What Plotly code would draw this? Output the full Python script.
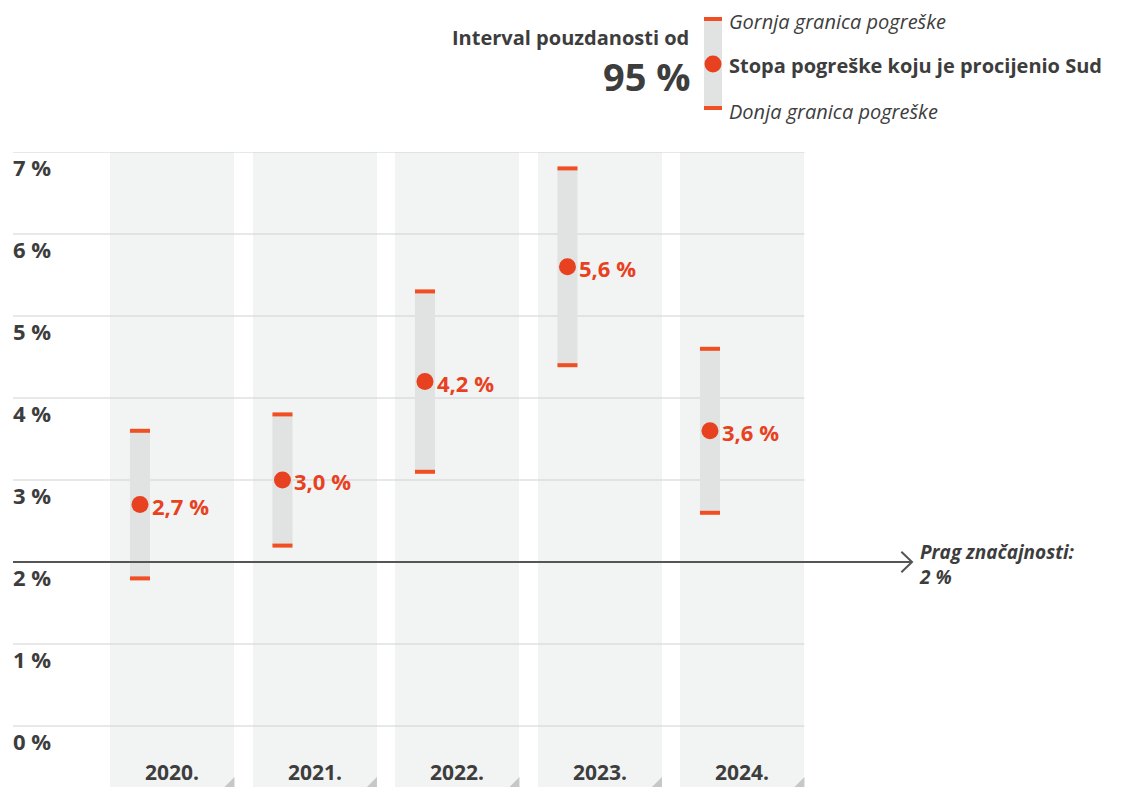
import plotly.graph_objects as go

# ---------------- data ----------------
years = ["2020.", "2021.", "2022.", "2023.", "2024."]
rate = [2.7, 3.0, 4.2, 5.6, 3.6]
lower = [1.8, 2.2, 3.1, 4.4, 2.6]
upper = [3.6, 3.8, 5.3, 6.8, 4.6]
threshold = 2
ytick_vals = [0, 1, 2, 3, 4, 5, 6, 7]
ytick_text = ["0 %", "1 %", "2 %", "3 %", "4 %", "5 %", "6 %", "7 %"]
rate_text = ["2,7 %", "3,0 %", "4,2 %", "5,6 %", "3,6 %"]

# ---------------- styling ----------------
W, H = 1123, 787
ML, MT = 13, 152
PX_X = 142.5          # pixels per category unit
PX_Y = 82.0           # pixels per 1 %
X0 = -1.119
X1 = X0 + (W - ML) / PX_X
Y0 = -(H - MT) / PX_Y + 7
Y1 = 7
COL_HALF = 0.435
ERR_OFF = -0.228
ERR_HALF = 10 / PX_X
FONT = "Open Sans"
DARK = "#3d3d3d"
ORANGE = "#e8411f"
CAP = "#f04e23"
COL_BG = "#f2f3f3"
ERR_BG = "#e1e2e2"
GRID = "#d0d1d1"

idx = list(range(len(years)))
ex = [i + ERR_OFF for i in idx]

fig = go.Figure()

# background columns
fig.add_trace(go.Bar(x=idx, y=[Y1 - Y0] * len(idx), base=Y0, width=2 * COL_HALF,
                     marker=dict(color=COL_BG, line=dict(width=0)), hoverinfo="skip"))

# gridlines
gx, gy = [], []
for v in ytick_vals:
    gx += [X0, idx[-1] + COL_HALF, None]
    gy += [v, v, None]
fig.add_trace(go.Scatter(x=gx, y=gy, mode="lines", line=dict(color=GRID, width=1),
                         hoverinfo="skip"))

# corner triangles
tx, ty = [], []
dx, dy = 10 / PX_X, 10 / PX_Y
for i in idx:
    xr = i + COL_HALF
    tx += [xr, xr, xr - dx, xr, None]
    ty += [Y0, Y0 + dy, Y0, Y0, None]
fig.add_trace(go.Scatter(x=tx, y=ty, mode="lines", fill="toself", fillcolor="#c6c7c7",
                         line=dict(width=0, color="#c6c7c7"), hoverinfo="skip"))

# error interval bars
rx, ry = [], []
for x, lo, up in zip(ex, lower, upper):
    rx += [x - ERR_HALF, x + ERR_HALF, x + ERR_HALF, x - ERR_HALF, x - ERR_HALF, None]
    ry += [lo, lo, up, up, lo, None]
fig.add_trace(go.Scatter(x=rx, y=ry, mode="lines", fill="toself", fillcolor=ERR_BG,
                         line=dict(width=0, color=ERR_BG), hoverinfo="skip"))

# threshold line with chevron
tip = 5.19
fig.add_trace(go.Scatter(x=[X0, tip], y=[threshold, threshold], mode="lines",
                         line=dict(color="#555555", width=2), hoverinfo="skip"))
fig.add_trace(go.Scatter(x=[tip - 0.075, tip, tip - 0.075],
                         y=[threshold + 0.125, threshold, threshold - 0.125], mode="lines",
                         line=dict(color="#555555", width=2), hoverinfo="skip"))

# caps
fig.add_trace(go.Scatter(x=ex + ex, y=lower + upper, mode="markers",
                         marker=dict(symbol="line-ew", size=14.3,
                                     line=dict(color=CAP, width=4)), hoverinfo="skip"))
# points
fig.add_trace(go.Scatter(x=ex, y=rate, mode="markers",
                         marker=dict(symbol="circle", size=17, color=ORANGE, line=dict(width=0)),
                         hoverinfo="skip"))

ann = []
# value labels
for x, r, t in zip(ex, rate, rate_text):
    ann.append(dict(x=x, y=r, xref="x", yref="y", text="<b>" + t + "</b>", showarrow=False,
                    xanchor="left", yanchor="middle", xshift=10, yshift=-1,
                    font=dict(family=FONT, size=22, color=ORANGE)))
# y labels
for v, t in zip(ytick_vals, ytick_text):
    ann.append(dict(x=X0, y=v, xref="x", yref="y", text="<b>" + t + "</b>", showarrow=False,
                    xanchor="left", yanchor="middle", yshift=-15, xshift=-2,
                    font=dict(family=FONT, size=22, color=DARK)))
# year labels
for i, t in zip(idx, years):
    ann.append(dict(x=i, y=Y0, xref="x", yref="y", text="<b>" + t + "</b>", showarrow=False,
                    xanchor="center", yanchor="middle", yshift=15,
                    font=dict(family=FONT, size=21, color=DARK)))
# threshold label
ann.append(dict(x=tip, y=threshold, xref="x", yref="y",
                text="<b><i>Prag značajnosti:</i></b><br><b><i>2 %</i></b>",
                showarrow=False, xanchor="left", yanchor="middle", align="left",
                xshift=5, yshift=-2,
                font=dict(family=FONT, size=19, color=DARK)))


# legend (paper coordinates from pixel positions)
def px(xp):
    return (xp - ML) / (W - ML)


def py(yp):
    return (H - yp) / (H - MT)


shapes = [
    dict(type="rect", xref="paper", yref="paper", x0=px(704), x1=px(722), y0=py(108), y1=py(19),
         fillcolor=ERR_BG, line=dict(width=0)),
    dict(type="rect", xref="paper", yref="paper", x0=px(704), x1=px(722), y0=py(21), y1=py(17),
         fillcolor=CAP, line=dict(width=0)),
    dict(type="rect", xref="paper", yref="paper", x0=px(704), x1=px(722), y0=py(110), y1=py(106),
         fillcolor=CAP, line=dict(width=0)),
    dict(type="circle", xref="paper", yref="paper", x0=px(704.5), x1=px(721.5), y0=py(72.5),
         y1=py(55.5), fillcolor=ORANGE, line=dict(width=0)),
]
ann += [
    dict(x=px(691), y=py(38), xref="paper", yref="paper", text="<b>Interval pouzdanosti od</b>",
         showarrow=False, xanchor="right", yanchor="middle",
         font=dict(family=FONT, size=20, color=DARK)),
    dict(x=px(693), y=py(76), xref="paper", yref="paper", text="<b>95 %</b>",
         showarrow=False, xanchor="right", yanchor="middle",
         font=dict(family=FONT, size=38, color=DARK)),
    dict(x=px(727), y=py(22), xref="paper", yref="paper", text="<i>Gornja granica pogreške</i>",
         showarrow=False, xanchor="left", yanchor="middle",
         font=dict(family=FONT, size=20, color=DARK)),
    dict(x=px(727), y=py(66), xref="paper", yref="paper",
         text="<b>Stopa pogreške koju je procijenio Sud</b>",
         showarrow=False, xanchor="left", yanchor="middle",
         font=dict(family=FONT, size=20, color=DARK)),
    dict(x=px(727), y=py(111), xref="paper", yref="paper", text="<i>Donja granica pogreške</i>",
         showarrow=False, xanchor="left", yanchor="middle",
         font=dict(family=FONT, size=20, color=DARK)),
]

fig.update_layout(
    width=W, height=H,
    margin=dict(l=ML, r=0, t=MT, b=0, pad=0),
    paper_bgcolor="white", plot_bgcolor="white",
    showlegend=False, barmode="overlay", bargap=0,
    xaxis=dict(range=[X0, X1], visible=False, fixedrange=True),
    yaxis=dict(range=[Y0, Y1], visible=False, fixedrange=True),
    annotations=ann, shapes=shapes,
    font=dict(family=FONT, color=DARK),
)

fig.write_html(
    "out.html",
    config={"displayModeBar": False},
    post_script="document.body.style.margin='0';document.documentElement.style.overflow='hidden';",
)
